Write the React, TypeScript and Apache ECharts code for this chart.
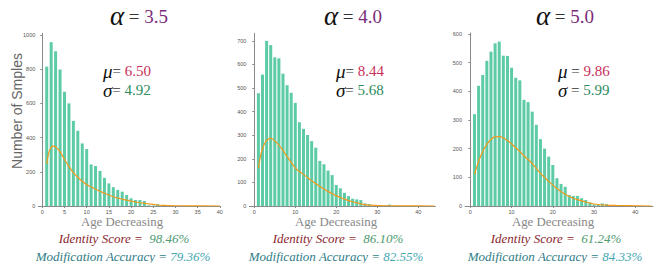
import React, { useEffect, useRef } from "react";
import * as echarts from "echarts";

// ---------- data ----------
const ages1 = [1,2,3,4,5,6,7,8,9,10,11,12,13,14,15,16,17,18,19,20,21,22,23,24,25,26,27,28,29,30];
const counts1 = [815,958,905,798,668,600,498,440,366,333,243,234,205,165,132,110,94,84,64,45,35,35,29,4,3,11,2,1,1,1];
const ages2 = [1,2,3,4,5,6,7,8,9,10,11,12,13,14,15,16,17,18,19,20,21,22,23,24,25,26,27,28,29,30,31,32,33,34,35];
const counts2 = [478,557,700,682,630,626,561,512,480,437,355,327,301,275,247,191,177,150,131,89,75,56,42,31,28,25,11,8,4,3,2,2,6,1,1];
const ages3 = [1,2,3,4,5,6,7,8,9,10,11,12,13,14,15,16,17,18,19,20,21,22,23,24,25,26,27,28,29,30,31,32,33,34,35,36,37,38];
const counts3 = [320,419,457,506,538,567,573,524,523,482,447,438,370,362,329,283,233,200,172,143,97,77,67,38,35,35,27,21,12,5,6,9,7,2,1,1,0,1];

const curveX1 = [1,1.5,2,2.5,3,4,5,6,7,8,9,10,11,12,13,14,15,16,17,18,19,20,21,22,23,24,25,26,27,28,30,33,36,40];
const curveY1 = [245,315,343,350,345,318,272,232,195,168,145,125,111,98,86,75,64,54,46,40,34,29,24,19,15,12,9,6,4,3,1.5,0.5,0.2,0];
const curveX2 = [1,1.5,2,3,4,5,6,7,8,9,10,11,12,13,14,15,16,17,18,19,20,21,22,23,24,25,26,27,28,29,30,32,35,40,44];
const curveY2 = [160,210,243,278,287,276,258,236,210,185,162,146,134,120,107,95,83,72,62,52,44,36,29,23,18,13,9,6,4,3,2,1,0.5,0.2,0];
const curveX3 = [1,2,3,4,5,6,7,8,9,10,11,12,13,14,15,16,17,18,19,20,21,22,23,24,25,26,27,28,29,30,31,32,33,35,38,44];
const curveY3 = [110,155,190,215,232,241,242,237,228,216,203,190,175,162,148,131,114,100,86,73,61,50,41,33,27,22,18,14,10,7,5,4,3,2,1,0];

const xTicks1 = [0,5,10,15,20,25,30,35,40];
const xTicks23 = [0,10,20,30,40];
const yTicks1 = [0,200,400,600,800,1000];
const yTicks2 = [0,100,200,300,400,500,600,700];
const yTicks3 = [0,100,200,300,400,500,600];

const alphas = ["3.5", "4.0", "5.0"];
const mus = ["6.50", "8.44", "9.86"];
const sigmas = ["4.92", "5.68", "5.99"];
const identityScores = ["98.46%", "86.10%", "61.24%"];
const modAccuracies = ["79.36%", "82.55%", "84.33%"];

// ---------- styling / layout ----------
const BAR = "#5ccba6";
const LINE = "#f39a1d";
const AXIS = "#8a8a8a";
const SERIF = "Liberation Serif";
const SANS = "Liberation Sans";

const panels = [
  { grid: { left: 38.3, top: 33.3, width: 182, height: 172.7 }, xmin: -0.9, xmax: 40.1, ymax: 1010, xt: xTicks1, yt: yTicks1, ages: ages1, counts: counts1, cx: curveX1, cy: curveY1, titleX: 139, muX: 103, xlabX: 122, idX: 124, maX: 123, muSep: "= " },
  { grid: { left: 249.4, top: 33.3, width: 186, height: 172.7 }, xmin: -1.2, xmax: 44.2, ymax: 732, xt: xTicks23, yt: yTicks2, ages: ages2, counts: counts2, cx: curveX2, cy: curveY2, titleX: 353, muX: 336, xlabX: 336, idX: 338, maX: 336, muSep: "= " },
  { grid: { left: 465, top: 33, width: 188, height: 173 }, xmin: -1.3, xmax: 44.3, ymax: 603, xt: xTicks23, yt: yTicks3, ages: ages3, counts: counts3, cx: curveX3, cy: curveY3, titleX: 565, muX: 558, xlabX: 553, idX: 556, maX: 555, muSep: " = " },
];

export default function App() {
  const ref = useRef<HTMLDivElement>(null);
  useEffect(() => {
    if (!ref.current) return;
    const chart = echarts.init(ref.current, undefined, { renderer: "svg" });

    const grid = panels.map((p) => p.grid);
    const xAxis = panels.map((p, i) => ({
      type: "value",
      gridIndex: i,
      min: p.xmin,
      max: p.xmax,
      splitLine: { show: false },
      axisLine: { show: true, lineStyle: { color: AXIS, width: 1 } },
      axisTick: { show: true, length: 2, lineStyle: { color: AXIS }, customValues: p.xt },
      axisLabel: { fontSize: 5.5, color: "#555", margin: 3, fontFamily: SANS, customValues: p.xt, formatter: (v: number) => String(v) },
    }));
    const yAxis = panels.map((p, i) => ({
      type: "value",
      gridIndex: i,
      min: 0,
      max: p.ymax,
      splitLine: { show: false },
      axisLine: { show: true, lineStyle: { color: AXIS, width: 1 } },
      axisTick: { show: true, length: 2, lineStyle: { color: AXIS }, customValues: p.yt },
      axisLabel: { fontSize: 5.5, color: "#555", margin: 3, fontFamily: SANS, customValues: p.yt, formatter: (v: number) => String(v) },
    }));

    const series: any[] = [];
    panels.forEach((p, i) => {
      series.push({
        type: "bar",
        xAxisIndex: i,
        yAxisIndex: i,
        barWidth: 3,
        itemStyle: { color: BAR },
        data: p.ages.map((a, k) => [a, p.counts[k]]),
      });
      series.push({
        type: "line",
        xAxisIndex: i,
        yAxisIndex: i,
        smooth: true,
        showSymbol: false,
        lineStyle: { color: LINE, width: 1.2 },
        data: p.cx.map((x, k) => [x, p.cy[k]]),
      });
    });

    const graphic: any[] = [];
    panels.forEach((p, i) => {
      graphic.push({
        type: "text",
        x: p.titleX,
        y: 16,
        style: {
          text: `{a|α}{e| = }{n|${alphas[i]}}`,
          align: "center",
          verticalAlign: "middle",
          rich: {
            a: { fontFamily: SERIF, fontStyle: "italic", fontSize: 27, fill: "#111" },
            e: { fontFamily: SERIF, fontSize: 19, fill: "#333" },
            n: { fontFamily: SERIF, fontSize: 19, fill: "#7b2d7b" },
          },
        },
      });
      graphic.push({
        type: "text",
        x: p.muX,
        y: 71,
        style: {
          text: `{m|μ}{e|${p.muSep}}{v|${mus[i]}}`,
          align: "left",
          verticalAlign: "middle",
          rich: {
            m: { fontFamily: SERIF, fontStyle: "italic", fontSize: 19, fill: "#111", lineHeight: 15 },
            e: { fontFamily: SERIF, fontSize: 15, fill: "#333", lineHeight: 15 },
            v: { fontFamily: SERIF, fontSize: 15, fill: "#c8305c", lineHeight: 15 },
          },
        },
      });
      graphic.push({
        type: "text",
        x: p.muX,
        y: 90,
        style: {
          text: `{m|σ}{e|${p.muSep}}{v|${sigmas[i]}}`,
          align: "left",
          verticalAlign: "middle",
          rich: {
            m: { fontFamily: SERIF, fontStyle: "italic", fontSize: 19, fill: "#111", lineHeight: 15 },
            e: { fontFamily: SERIF, fontSize: 15, fill: "#333", lineHeight: 15 },
            v: { fontFamily: SERIF, fontSize: 15, fill: "#2e8b5e", lineHeight: 15 },
          },
        },
      });
      graphic.push({
        type: "text",
        x: p.xlabX,
        y: 222,
        style: {
          text: "Age Decreasing",
          align: "center",
          verticalAlign: "middle",
          fontFamily: SERIF,
          fontSize: 12.8,
          fill: "#888",
        },
      });
      graphic.push({
        type: "text",
        x: p.idX,
        y: 238,
        style: {
          text: `{i|Identity Score =  }{v|${identityScores[i]}}`,
          align: "center",
          verticalAlign: "middle",
          rich: {
            i: { fontFamily: SERIF, fontStyle: "italic", fontSize: 13, fill: "#8b1f30" },
            v: { fontFamily: SERIF, fontStyle: "italic", fontSize: 13, fill: "#4f9a70" },
          },
        },
      });
      graphic.push({
        type: "text",
        x: p.maX,
        y: 256,
        style: {
          text: `{i|Modification Accuracy = }{v|${modAccuracies[i]}}`,
          align: "center",
          verticalAlign: "middle",
          rich: {
            i: { fontFamily: SERIF, fontStyle: "italic", fontSize: 13, fill: "#2f7d88" },
            v: { fontFamily: SERIF, fontStyle: "italic", fontSize: 13, fill: "#45a6b0" },
          },
        },
      });
    });
    graphic.push({
      type: "text",
      x: 17,
      y: 111,
      rotation: Math.PI / 2,
      style: {
        text: "Number of Smples",
        align: "center",
        verticalAlign: "middle",
        fontFamily: SANS,
        fontSize: 14,
        fill: "#666",
      },
    });

    chart.setOption({
      animation: false,
      backgroundColor: "#fff",
      grid,
      xAxis,
      yAxis,
      series,
      graphic,
    });
    return () => chart.dispose();
  }, []);
  return (
    <div
      ref={ref}
      style={{ position: "fixed", left: 0, top: 0, width: 660, height: 263 }}
    />
  );
}
